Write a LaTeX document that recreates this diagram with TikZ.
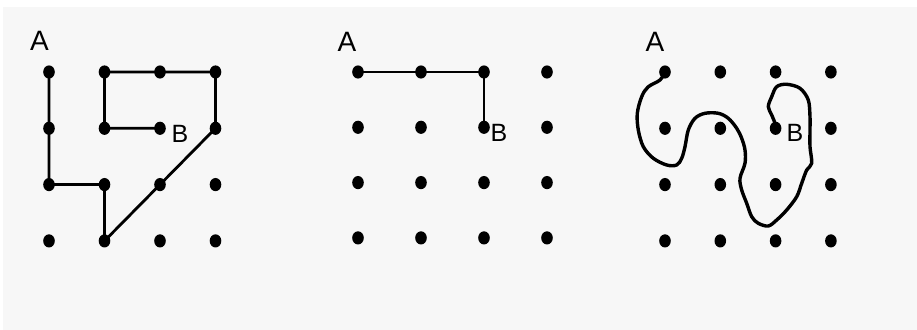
\documentclass[tikz,border=0pt]{standalone}
\usepackage{fontspec}
\setmainfont{Liberation Sans}
\usepackage{xcolor}
\usepackage{tikz}
\usetikzlibrary{shapes.geometric}
\definecolor{paperG}{HTML}{F7F7F7}

\begin{document}
\begin{tikzpicture}[x=0.5pt, y=-0.5pt,
  dot/.style={ellipse, fill=black, draw=none, inner sep=0pt, minimum width=5.8pt, minimum height=6.6pt},
  route/.style={line width=1.4pt, draw=black, line join=round, line cap=round},
  squiggle/.style={line width=1.7pt, draw=black, line join=round, line cap=round},
  endA/.style={font=\fontsize{14}{15}\selectfont, inner sep=0pt},
  endB/.style={font=\fontsize{12.5}{13}\selectfont, inner sep=0pt},
  ]
\useasboundingbox (0,0) rectangle (917,330);
\fill[paperG] (3,7) rectangle (917,330);
% ---- the three grids of dots
\foreach \r in {1,...,4}
  \foreach \c in {1,...,4} {
    \node[dot] (l-\r-\c) at ({49+55.5*(\c-1)},{72+56.3*(\r-1)}) {};
    \node[dot] (m-\r-\c) at ({358+63*(\c-1)},{72+55.3*(\r-1)}) {};
    \node[dot] (r-\r-\c) at ({665+55.3*(\c-1)},{72+56.3*(\r-1)}) {};
  }
% ---- end labels
\node[endA] (lA) at (39.5,41) {A};
\node[endA] (mA) at (347,41.5) {A};
\node[endA] (rA) at (655,41.5) {A};
\node[endB] (lB) at (180,134) {B};
\node[endB] (mB) at (499,133) {B};
\node[endB] (rB) at (795,133) {B};
% ---- left: the long way round
\draw[route] (l-1-1.center) -- (l-2-1.center) -- (l-3-1.center) -- (l-3-2.center)
  -- (l-4-2.center) -- (l-3-3.center) -- (l-2-4.center) -- (l-1-4.center)
  -- (l-1-3.center) -- (l-1-2.center) -- (l-2-2.center) -- (l-2-3.center);
% ---- middle: the short way
\draw[route] (m-1-1.center) -- (m-1-2.center) -- (m-1-3.center) -- (m-2-3.center);
% ---- right: a free curve
\draw[squiggle] plot[smooth, tension=0.55] coordinates {(r-1-1.center) (660,80) (648,87) (641.7,96.7)
  (637.3,113.3) (638.3,130) (643.3,146.7) (653.3,158.3) (666.7,165) (676.7,165)
  (681.7,158.3) (685,146.7) (688.3,130) (695,118.3) (705,113.3) (718.3,113.3)
  (728.3,118.3) (736.7,128.3) (741.7,138.3) (745,150) (745,163.3) (740,178.3)
  (741.7,190) (746.7,203.3) (751.7,216.7) (758.3,223.3) (768.3,226) (776.7,220)
  (786.7,210) (796.7,196.7) (801.7,183.3) (806.7,170) (811.7,163.3) (810,146.7)
  (810,130) (810,116.7) (808.3,100) (800,88.3) (786.7,84.3) (776.7,86.7)
  (771.7,96.7) (768.3,106.7) (771.7,115) (775,123.3) (r-2-3.center)};
\end{tikzpicture}
\end{document}
